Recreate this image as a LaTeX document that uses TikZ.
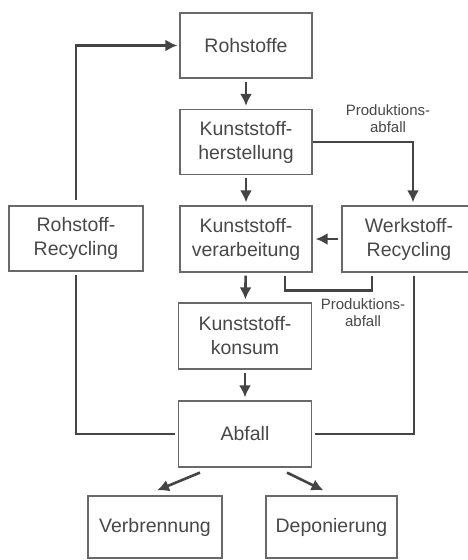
\documentclass[tikz,border=0pt]{standalone}
\usepackage{fontspec}
\setmainfont{Liberation Sans}
\definecolor{LineGray}{RGB}{68,68,68}
\definecolor{BoxGray}{RGB}{105,105,105}
\definecolor{TextGray}{RGB}{72,72,72}
\usetikzlibrary{positioning, arrows.meta, calc}

\begin{document}
\begin{tikzpicture}[x=1pt, y=-1pt,
    box/.style={draw=BoxGray, line width=1.2pt, text=TextGray, align=center, inner sep=0pt,
      minimum width=132pt, minimum height=65pt, font=\fontsize{19.5}{24}\selectfont},
    flow/.style={LineGray, line width=2.6pt, shorten <=3pt, shorten >=3pt},
    flowarr/.style={flow, -{Latex[length=12pt,width=12pt]}},
    note/.style={text=TextGray, align=center, inner sep=0pt, font=\fontsize{15}{17}\selectfont}]
          \fill[white] (0,0) rectangle (468,560);
          \clip (0,0) rectangle (468,560);
          \node[box] (rohstoffe) at (246,45.5) {Rohstoffe};
          \node[box] (herst) at (246,142) {Kunststoff-\\herstellung};
          \node[box, minimum height=66pt] (verarb) at (246,239) {Kunststoff-\\verarbeitung};
          \node[box, minimum width=134pt] (rrec) at (76,238.5) {Rohstoff-\\Recycling};
          \node[box, minimum width=134pt, minimum height=66pt] (wrec) at (409,239) {Werkstoff-\\Recycling};
          \node[box, minimum width=133pt, minimum height=66pt] (konsum) at (245,336) {Kunststoff-\\konsum};
          \node[box, minimum width=133pt, minimum height=66pt] (abfall) at (245,434) {Abfall};
          \node[box, minimum width=134pt, minimum height=62pt] (verbr) at (155,527) {Verbrennung};
          \node[box, minimum width=131pt, minimum height=62pt] (depon) at (331.5,527) {Deponierung};
          \draw[flowarr] (rohstoffe) -- (herst);
          \draw[flowarr] (herst) -- (verarb);
          \draw[flowarr] (verarb) -- (konsum);
          \draw[flowarr] (konsum) -- (abfall);
          \draw[flowarr] (wrec) -- (verarb);
          \draw[flowarr, shorten <=0pt] (herst.east) -| ([xshift=4pt]wrec.north);
          \draw[flowarr, shorten <=5pt, shorten >=2pt] (rrec.north) |- (rohstoffe.west);
          \draw[flow] (abfall.west) -| (rrec.south);
          \draw[flow] (abfall.east) -| ([xshift=5pt]wrec.south);
          \draw[flow] ([xshift=39pt]verarb.south) -- ++(0,18) -| ([xshift=-37pt]wrec.south);
          \draw[flowarr, shorten <=0pt, shorten >=0pt] ([xshift=-45pt,yshift=-5pt]abfall.south) -- ([xshift=2pt,yshift=5pt]verbr.north);
          \draw[flowarr, shorten <=0pt, shorten >=0pt] ([xshift=42pt,yshift=-5pt]abfall.south) -- ([xshift=-8pt,yshift=5pt]depon.north);
          \node[note] (abfall1) at (388,119) {Produktions-\\abfall};
          \node[note] (abfall2) at (363,313) {Produktions-\\abfall};
        \end{tikzpicture}
\end{document}
